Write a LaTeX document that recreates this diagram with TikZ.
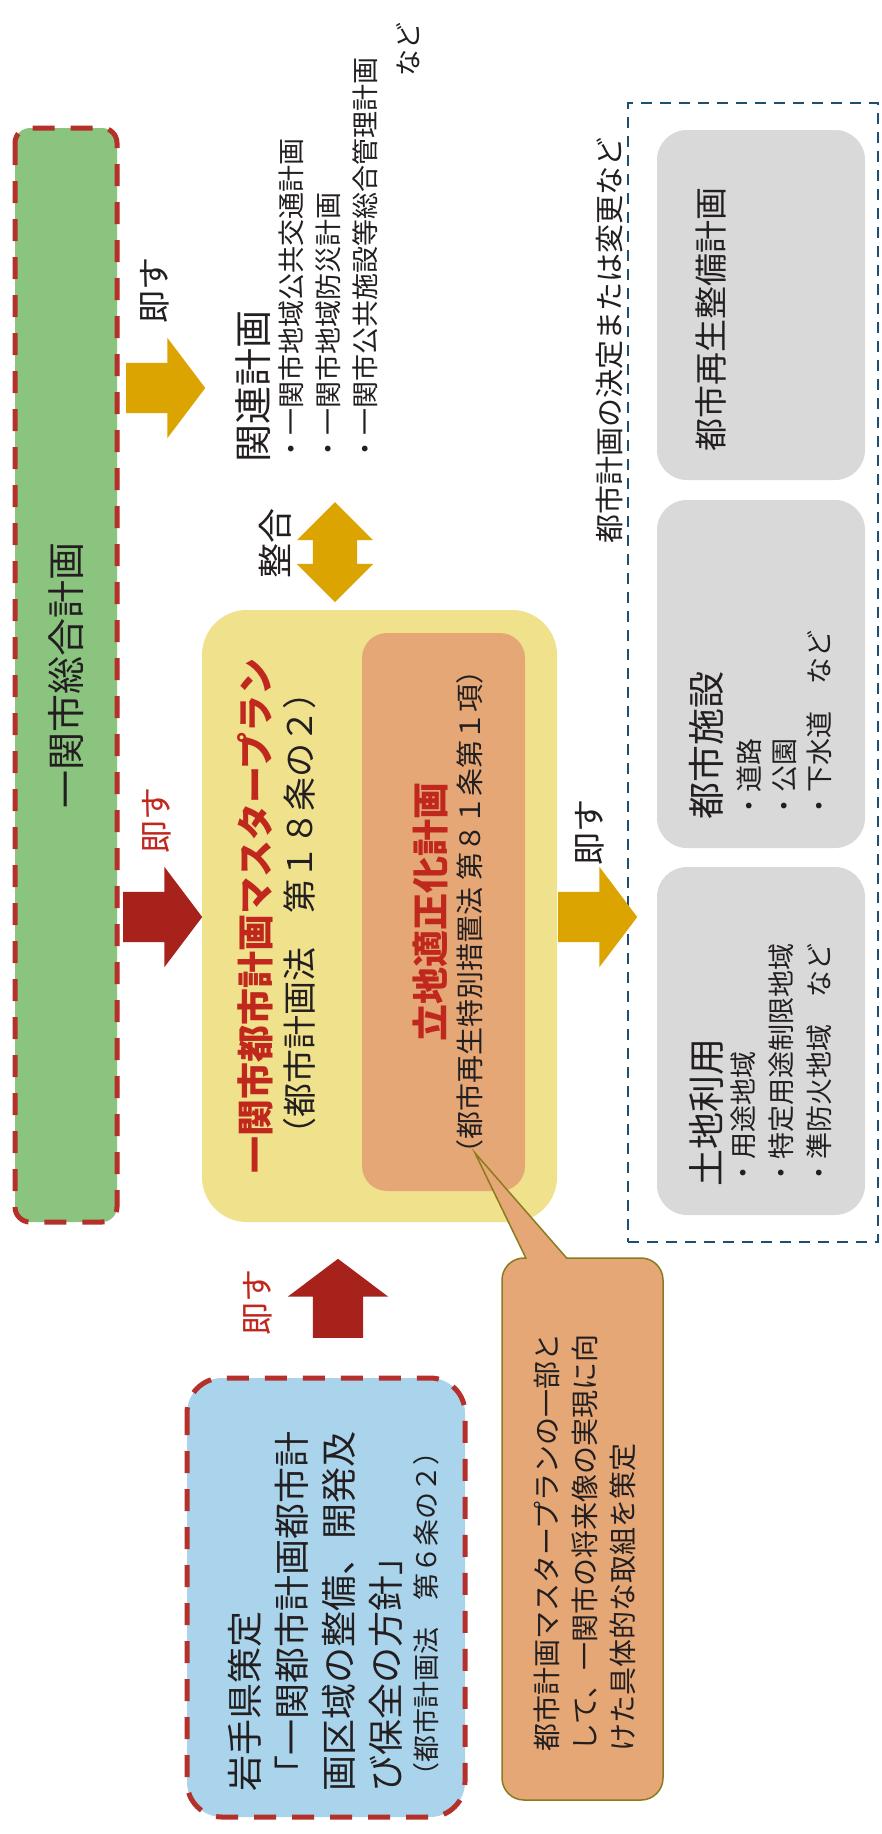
\documentclass[tikz,border=0pt]{standalone}
\usepackage{fontspec}
\setmainfont{Noto Sans CJK JP}
\usepackage{tikz}
\usetikzlibrary{shapes.arrows}

\definecolor{sogogreen}{HTML}{8BC47F}
\definecolor{dashred}{HTML}{B5302A}
\definecolor{arrowgold}{HTML}{DCA400}
\definecolor{arrowred}{HTML}{A8221C}
\definecolor{mpyellow}{HTML}{F0E18D}
\definecolor{rtorange}{HTML}{E5A776}
\definecolor{titlered}{HTML}{C0281E}
\definecolor{kenblue}{HTML}{AAD4EC}
\definecolor{boxgray}{HTML}{D9D9D9}
\definecolor{planblue}{HTML}{1E4F73}
\definecolor{calloutedge}{HTML}{8C7A1E}
\definecolor{inkgray}{HTML}{231F20}

\begin{document}
\begin{tikzpicture}[x=1pt, y=-1pt,
  vtext/.style={rotate=90, inner sep=0pt, text=inkgray},
  dashbox/.style={rotate=90, draw=dashred, line width=5pt, dash pattern=on 22pt off 16pt},
  graybox/.style={rotate=90, fill=boxgray, rounded corners=30pt, minimum width=348pt, minimum height=208pt},
  fatarrow/.style={single arrow, inner xsep=0pt, inner ysep=25pt, minimum height=79pt,
    single arrow head extend=25pt, single arrow tip angle=106, anchor=tail}]
  \useasboundingbox (0,0) rectangle (882,1834);
  \fill[white] (0,0) rectangle (882,1834);

  \node (sogo) [dashbox, fill=sogogreen, rounded corners=15pt, minimum width=1094pt, minimum height=102pt,
    text=inkgray, font=\fontsize{38}{38}\selectfont] at (66,675) {一関市総合計画};

  \node (kettei) [draw=planblue, line width=2.5pt, dash pattern=on 11pt off 8pt,
    minimum width=250pt, minimum height=1139pt] at (753,672.5) {};
  \node (ketteilabel) [vtext, font=\fontsize{29}{29}\selectfont] at (609,340) {都市計画の決定または変更など};

  \node (saisei) [graybox, minimum width=350pt] at (761,305) {};
  \node (shisetsu) [graybox] at (761,674) {};
  \node (tochi) [graybox] at (761,1041) {};
  \node (saiseitext) [vtext, anchor=north west, font=\fontsize{33}{33}\selectfont] at (695,452) {都市再生整備計画};
  \node (shisetsutext) [vtext, anchor=north west, font=\fontsize{37}{37}\selectfont] at (689,820) {都市施設};
  \node (shisetsulist) [vtext, anchor=north west, align=left, font=\fontsize{27}{35}\selectfont] at (737,820)
    {・道路\\・公園\\・下水道　など};
  \node (tochitext) [vtext, anchor=north west, font=\fontsize{37}{37}\selectfont] at (689,1187) {土地利用};
  \node (tochilist) [vtext, anchor=north west, align=left, font=\fontsize{27}{38}\selectfont] at (731,1187)
    {・用途地域\\・特定用途制限地域\\・準防火地域　など};

  \node (masterplan) [rotate=90, fill=mpyellow, rounded corners=45pt, minimum width=612pt, minimum height=355pt] at (379.5,916) {};
  \node (tekisei) [rotate=90, fill=rtorange, rounded corners=25pt, minimum width=558pt, minimum height=163pt] at (443.5,912) {};
  \node (mptitle) [vtext, text=titlered, font=\bfseries\fontsize{37}{37}\selectfont] at (255,916) {一関市都市計画マスタープラン};
  \node (mplaw) [vtext, font=\fontsize{34}{34}\selectfont] at (300,913) {（都市計画法　第１８条の２）};
  \node (tekiseititle) [vtext, text=titlered, font=\bfseries\fontsize{37}{37}\selectfont] at (430,912) {立地適正化計画};
  \node (tekiseilaw) [vtext, font=\fontsize{28}{28}\selectfont] at (470,912) {（都市再生特別措置法 第８１条第１項）};

  \node (kanren) [vtext, anchor=north west, font=\fontsize{38}{38}\selectfont] at (235,463) {関連計画};
  \node (kanrenlist) [vtext, anchor=north west, align=left, text width=440pt, font=\fontsize{27}{37}\selectfont] at (278,463)
    {・一関市地域公共交通計画\\・一関市地域防災計画\\・一関市公共施設等総合管理計画\\[6pt]\hspace*{\fill}など};

  \node (iwate) [dashbox, fill=kenblue, rounded corners=35pt, minimum width=439pt, minimum height=278pt] at (326,1597.5) {};
  \node (iwatetext) [vtext, anchor=north west, align=left, font=\fontsize{36}{47}\selectfont] at (228,1792)
    {岩手県策定\\「一関都市計画都市計\\画区域の整備、開発及\\び保全の方針」};
  \node (iwatelaw) [vtext, anchor=north west, font=\fontsize{27}{27}\selectfont] at (413,1790) {（都市計画法　第６条の２）};

  \node (torikumi) [fill=rtorange, draw=calloutedge, line width=1.5pt, rounded corners=22pt,
    minimum width=161pt, minimum height=542pt] at (582.5,1529) {};
  \coordinate (ctip) at (475,1153);
  \filldraw[fill=rtorange, draw=calloutedge, line width=1.5pt] ([xshift=25pt,yshift=-1.5pt]torikumi.north west) -- (ctip)
    -- ([xshift=66pt,yshift=-1.5pt]torikumi.north west);
  \node (torikumitext) [vtext, anchor=north west, align=left, font=\fontsize{28}{38}\selectfont] at (534,1752)
    {都市計画マスタープランの一部と\\して、一関市の将来像の実現に向\\けた具体的な取組を策定};

  \node (sokuA) [fatarrow, fill=arrowgold] at (126,388) {};
  \node (sokuB) [fatarrow, fill=arrowred] at (123,917) {};
  \node (sokuC) [fatarrow, fill=arrowgold] at (558,917) {};
  \node (sokuD) [fatarrow, fill=arrowred, rotate=90] at (338,1338) {};
  \node (seigo) [double arrow, fill=arrowgold, rotate=90, inner xsep=0pt, inner ysep=22pt, minimum height=100pt,
    double arrow head extend=16pt] at (335,552) {};

  \node (lblA) [vtext, font=\fontsize{33}{33}\selectfont] at (155,290) {即す};
  \node (lblB) [vtext, text=titlered, font=\fontsize{33}{33}\selectfont] at (157,820) {即す};
  \node (lblC) [vtext, font=\fontsize{33}{33}\selectfont] at (590,832) {即す};
  \node (lblD) [vtext, text=titlered, font=\fontsize{33}{33}\selectfont] at (258,1302) {即す};
  \node (lblE) [vtext, font=\fontsize{35}{35}\selectfont] at (275,543) {整合};
\end{tikzpicture}
\end{document}
